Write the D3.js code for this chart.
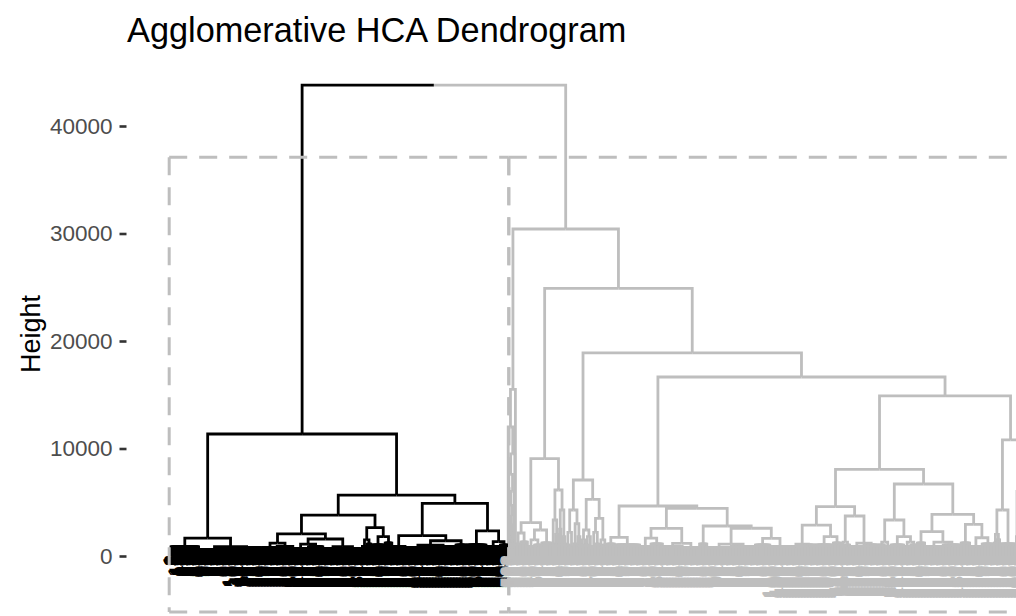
<!DOCTYPE html>
<html lang="en">
<head>
<meta charset="UTF-8">
<title>Agglomerative HCA Dendrogram</title>
<script src="https://d3js.org/d3.v7.min.js"></script>
<style>
  body { margin: 0; background: #fff; }
  svg { display: block; font-family: "Liberation Sans", Arial, sans-serif; }
</style>
</head>
<body>
<svg width="1016" height="616"></svg>
<script>
// k = 2 clusters
const clusterColors = ["#000000", "#BEBEBE"];
const yTicks = [0, 10000, 20000, 30000, 40000];
const rootHeight = 43800;
const rectTop = 37100, rectBottom = -5200;

// Merge heights.
// A node is [height, left, right]; {n, g} is a tuft of n leaves fused at height g.
const blackLeft = [1670, {n: 47, g: 850}, [870, {n: 52, g: 600}, {n: 55, g: 750}]];
const blackRL = [3810,
  [2050, [1200, {n: 23, g: 800}, {n: 27, g: 900}],
         [1580, [1100, {n: 25, g: 700}, {n: 25, g: 850}], [870, {n: 33, g: 700}, {n: 32, g: 650}]]],
  [2640, [1500, {n: 8, g: 900}, {n: 7, g: 1100}], [1800, {n: 23, g: 1000}, {n: 12, g: 1200}]]];
const blackRR = [4900,
  [1900, {n: 22, g: 900}, [1420, [1020, {n: 42, g: 800}, {n: 42, g: 900}], {n: 18, g: 1000}]],
  [2330, {n: 33, g: 1000}, [1340, {n: 23, g: 900}, {n: 13, g: 1000}]]];
const blackTree = [11350, blackLeft, [5670, blackRL, blackRR]];

// the thin chained branch at the left edge of the grey cluster
const grayChainHeights = [700, 1100, 1600, 2200, 2900, 3700, 4700, 6000, 7600, 9500, 12000, 15500];
const grayA = [9050,
  [3100, [2140, {n: 8, g: 1100}, {n: 12, g: 1300}], [2420, [1500, {n: 11, g: 900}, {n: 12, g: 1000}], {n: 17, g: 1200}]],
  [6140, [3350, {n: 5, g: 1100}, [2000, {n: 3, g: 900}, {n: 4, g: 1000}]],
         [4280, [2500, {n: 2, g: 1000}, {n: 3, g: 1200}], [1800, {n: 3, g: 800}, {n: 4, g: 1100}]]]];
const grayB = [7070,
  [4280, [2200, {n: 6, g: 1000}, {n: 6, g: 900}], [3000, {n: 6, g: 1100}, [1800, {n: 3, g: 900}, {n: 4, g: 1000}]]],
  [5270, [2420, [1500, {n: 4, g: 900}, {n: 4, g: 1000}], [1800, {n: 5, g: 1000}, {n: 5, g: 800}]],
         [3500, [2200, {n: 6, g: 900}, {n: 6, g: 1100}], [1500, {n: 6, g: 800}, {n: 7, g: 1000}]]]];
const grayC = [4650,
  [1740, {n: 13, g: 1100}, {n: 42, g: 1000}],
  [4430,
    [2577, [1670, {n: 18, g: 900}, {n: 20, g: 1100}], [1180, {n: 33, g: 900}, {n: 28, g: 800}]],
    [2790, {n: 13, g: 1100}, [2580, [1100, {n: 40, g: 800}, {n: 40, g: 900}], [1640, {n: 25, g: 1000}, {n: 33, g: 900}]]]]];
const grayD = [8060,
  [4590,
    [2880, [1100, {n: 20, g: 900}, {n: 22, g: 1000}], [1800, {n: 30, g: 1000}, {n: 13, g: 1200}]],
    [3720, [1300, {n: 7, g: 900}, {n: 8, g: 1000}], [1200, {n: 23, g: 900}, {n: 25, g: 1000}]]],
  [6700,
    [3350, [1300, {n: 10, g: 1000}, {n: 10, g: 900}], [1800, {n: 22, g: 1000}, [1300, {n: 11, g: 900}, {n: 11, g: 1000}]]],
    [3880,
      [2260, {n: 13, g: 1200}, [1300, {n: 30, g: 900}, {n: 30, g: 1000}]],
      [2950, {n: 15, g: 1200}, [1700, {n: 20, g: 900}, {n: 20, g: 1100}]]]]];
const grayE = [10800, [4280, [2000, {n: 5, g: 1200}, {n: 5, g: 1500}], {n: 27, g: 1100}],
  [6000, {n: 3, g: 1800}, {n: 8, g: 1500}]];
const grayTree = [30420, {chain: grayChainHeights},
  [24900, grayA, [18900, grayB, [16650, grayC, [14900, grayD, grayE]]]]];

const tree = [rootHeight, blackTree, grayTree];

// ---- build hierarchy ----
function build(spec) {
  if (Array.isArray(spec)) return {h: spec[0], children: [build(spec[1]), build(spec[2])]};
  if (spec.chain) {
    let node = {h: 0};
    spec.chain.forEach((h, i) => {
      node = {h: h, children: i % 2 ? [node, {h: 0}] : [{h: 0}, node]};
    });
    return node;
  }
  if (spec.n === 1) return {h: 0};
  return {h: spec.g, children: d3.range(spec.n).map(() => ({h: 0}))};
}

const root = d3.hierarchy(build(tree));
const leaves = root.leaves();

const leafStep = 0.6, firstLeaf = 171;
const x = d3.scaleLinear()
  .domain([0, leaves.length - 1])
  .range([firstLeaf, firstLeaf + leafStep * (leaves.length - 1)]);
const y = d3.scaleLinear().domain([0, 40000]).range([556, 126]);

leaves.forEach((d, i) => { d.index = i; d.x = x(i); });
root.eachAfter(d => { if (d.children) d.x = d3.mean(d.children, c => c.x); });
root.children.forEach((c, k) => c.each(d => { d.k = k; }));

const svg = d3.select("svg");

// title
svg.append("text")
  .attr("x", 127).attr("y", 42)
  .style("font-size", "34.3px")
  .attr("fill", "#000")
  .text("Agglomerative HCA Dendrogram");

// y axis
const axis = svg.append("g")
  .attr("transform", "translate(126.5,0)")
  .call(d3.axisLeft(y).tickValues(yTicks).tickSize(7).tickPadding(7).tickFormat(d3.format("d")));
axis.attr("font-family", null).attr("font-size", null);
axis.select(".domain").remove();
axis.selectAll(".tick line").attr("stroke", "#333").attr("stroke-width", 2.6);
axis.selectAll(".tick text").attr("fill", "#4D4D4D").style("font-size", "22.5px");

svg.append("text")
  .attr("transform", "translate(40,334) rotate(-90)")
  .attr("text-anchor", "middle")
  .style("font-size", "27px")
  .attr("fill", "#000")
  .text("Height");

// branches
svg.append("g")
  .attr("fill", "none")
  .attr("stroke-width", 2.8)
  .selectAll("path")
  .data(root.descendants().slice(1))
  .join("path")
  .attr("stroke", d => clusterColors[d.k])
  .attr("d", d => `M${d.parent.x},${y(d.parent.data.h)}H${d.x}V${y(d.data.h)}`);

// leaf labels (observation numbers)
svg.append("g")
  .style("font-size", "19.8px")
  .attr("text-anchor", "end")
  .attr("text-rendering", "geometricPrecision")
  .selectAll("text")
  .data(leaves)
  .join("text")
  .attr("transform", d => `translate(${d.x},${y(0) - 1}) rotate(-90)`)
  .attr("dominant-baseline", "central")
  .attr("fill", d => clusterColors[d.k])
  .text(d => d.index + 1);

// dashed cluster rectangles; the shared edge sits between the two clusters
const rectG = svg.append("g")
  .attr("stroke", "#BEBEBE")
  .attr("stroke-width", 3)
  .attr("stroke-dasharray", "18 12");
const spans = root.children.map(c => d3.extent(c.leaves(), d => d.index));
spans.forEach((ext, k) => {
  const x0 = k === 0 ? x(ext[0] - 3) : x((spans[k - 1][1] + ext[0]) / 2 + 1.5);
  const x1 = k === spans.length - 1 ? x(ext[1] + 3) : x((ext[1] + spans[k + 1][0]) / 2 + 1.5);
  const y0 = y(rectTop), y1 = y(rectBottom);
  [[x0, y0, x1, y0], [x0, y1, x1, y1], [x0, y0, x0, y1], [x1, y0, x1, y1]].forEach(s => {
    rectG.append("line")
      .attr("x1", s[0]).attr("y1", s[1]).attr("x2", s[2]).attr("y2", s[3]);
  });
});
</script>
</body>
</html>
